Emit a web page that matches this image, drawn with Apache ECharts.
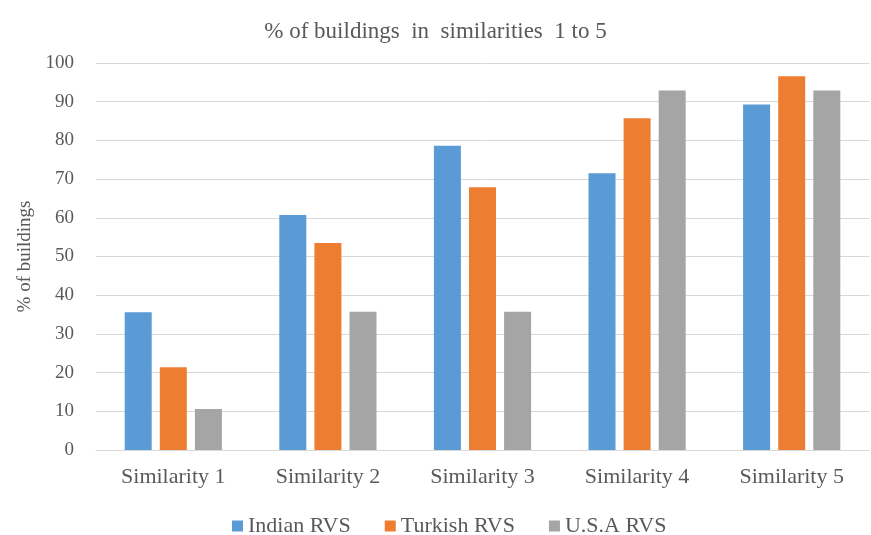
<!DOCTYPE html>
<html>
<head>
<meta charset="utf-8">
<script src="https://cdn.jsdelivr.net/npm/echarts@6/dist/echarts.min.js"></script>
<style>
  html, body { margin: 0; padding: 0; background: #fff; }
  #chart { width: 871px; height: 535px; }
</style>
</head>
<body>
<div id="chart"></div>
<script>
const categories = ['Similarity 1', 'Similarity 2', 'Similarity 3', 'Similarity 4', 'Similarity 5']
const indianRVS = [35.6, 60.7, 78.6, 71.5, 89.3]
const turkishRVS = [21.4, 53.5, 67.9, 85.7, 96.6]
const usaRVS = [10.6, 35.7, 35.7, 92.9, 92.9]

const textColor = '#595959'
const font = '"Liberation Serif", "DejaVu Serif", serif'

const chart = echarts.init(document.getElementById('chart'))
const option = {
  animation: false,
  color: ['#5b9bd5', '#ed7d31', '#a5a5a5'],
  title: {
    text: '% of buildings  in  similarities  1 to 5',
    left: 'center',
    top: 15,
    textStyle: { fontFamily: font, fontSize: 23, fontWeight: 'normal', color: textColor }
  },
  // legend sits a little right of centre in the original
  legend: {
    top: 510,
    left: 227,
    itemWidth: 11,
    itemHeight: 11,
    itemGap: 34,
    icon: 'rect',
    textStyle: { fontFamily: font, fontSize: 22, color: textColor }
  },
  grid: {
    left: 96,
    right: 2,
    top: 63,
    bottom: 85
  },
  xAxis: {
    type: 'category',
    data: categories,
    axisTick: { show: false },
    axisLine: { lineStyle: { color: '#d9d9d9', width: 1 } },
    axisLabel: { fontFamily: font, fontSize: 22, color: textColor, margin: 16 }
  },
  yAxis: {
    type: 'value',
    min: 0,
    max: 100,
    interval: 10,
    name: '% of buildings',
    nameLocation: 'middle',
    nameGap: 60,
    nameTextStyle: { fontFamily: font, fontSize: 19, color: textColor },
    axisLabel: { fontFamily: font, fontSize: 19, color: textColor, margin: 22 },
    axisLine: { show: false },
    splitLine: { lineStyle: { color: '#d9d9d9' } }
  },
  series: [
    { name: 'Indian RVS', type: 'bar', data: indianRVS, barWidth: 27, barGap: '30%' },
    { name: 'Turkish RVS', type: 'bar', data: turkishRVS, barWidth: 27, barGap: '30%' },
    { name: 'U.S.A RVS', type: 'bar', data: usaRVS, barWidth: 27, barGap: '30%' }
  ]
}
chart.setOption(option)
</script>
</body>
</html>
